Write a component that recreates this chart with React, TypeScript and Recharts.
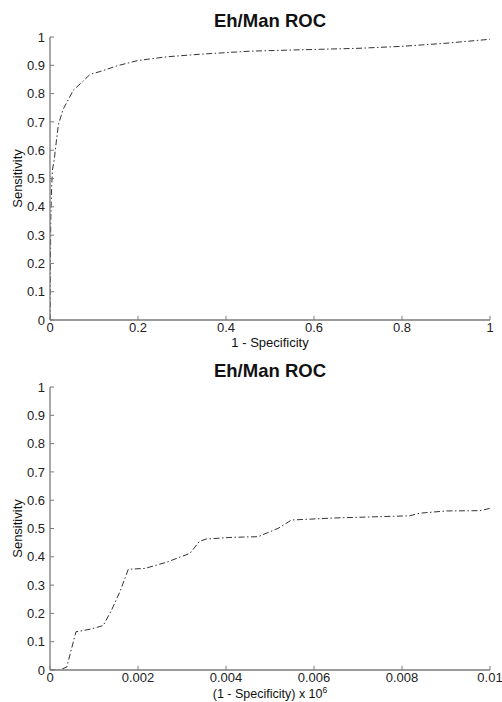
import React from 'react';
import { LineChart, Line, XAxis, YAxis } from 'recharts';

const rocFullX = [0, 0.0004, 0.0006, 0.0018, 0.0035, 0.0055, 0.01, 0.012, 0.019, 0.03, 0.053, 0.076, 0.091, 0.114, 0.152, 0.2, 0.265, 0.34, 0.455, 0.6, 0.7, 0.8, 0.9, 1];
const rocFullY = [0, 0.01, 0.13, 0.36, 0.46, 0.53, 0.57, 0.6, 0.69, 0.745, 0.812, 0.845, 0.868, 0.878, 0.898, 0.917, 0.93, 0.939, 0.95, 0.956, 0.96, 0.967, 0.978, 0.992];

const rocZoomX = [0, 0.0002, 0.00038, 0.00059, 0.00091, 0.00121, 0.0014, 0.00159, 0.00178, 0.00216, 0.00265, 0.00318, 0.0034, 0.00356, 0.00417, 0.00473, 0.00519, 0.00549, 0.00644, 0.00818, 0.0084, 0.009, 0.00977, 0.01];
const rocZoomY = [0, 0, 0.01, 0.135, 0.144, 0.157, 0.212, 0.277, 0.356, 0.359, 0.381, 0.412, 0.455, 0.463, 0.469, 0.471, 0.501, 0.53, 0.537, 0.545, 0.554, 0.562, 0.563, 0.571];

const yTicks = [0, 0.1, 0.2, 0.3, 0.4, 0.5, 0.6, 0.7, 0.8, 0.9, 1];
const xTicksFull = [0, 0.2, 0.4, 0.6, 0.8, 1];
const xTicksZoom = [0, 0.002, 0.004, 0.006, 0.008, 0.01];

const titleText = 'Eh/Man ROC';
const yLabelText = 'Sensitivity';
const xLabelFull = '1 - Specificity';
const xLabelZoom = '(1 - Specificity) x 10';

const FONT = '"Liberation Sans", Arial, Helvetica, sans-serif';
const AXIS = '#7a7a7a';
const tickStyle = { fontSize: 13, fill: '#222', fontFamily: FONT };
const blank = () => '';

const toRows = (xs: number[], ys: number[]) => xs.map((x, i) => ({ x, y: ys[i] }));

function Panel({ data, xTicks, xMax }: { data: { x: number; y: number }[]; xTicks: number[]; xMax: number }) {
  return (
    <LineChart width={502} height={350} data={data} margin={{ top: 37, right: 12, bottom: 0, left: 0 }}>
      <XAxis
        dataKey="x"
        type="number"
        domain={[0, xMax]}
        ticks={xTicks}
        interval={0}
        height={30}
        tickSize={-4}
        tickMargin={7}
        axisLine={{ stroke: AXIS, strokeWidth: 1.3 }}
        tickLine={{ stroke: AXIS, strokeWidth: 1 }}
        tick={tickStyle}
        allowDataOverflow
      />
      <XAxis
        xAxisId="top"
        orientation="top"
        dataKey="x"
        type="number"
        domain={[0, xMax]}
        ticks={xTicks}
        interval={0}
        height={0}
        tickSize={-4}
        tickFormatter={blank}
        axisLine={{ stroke: AXIS, strokeWidth: 1.3 }}
        tickLine={{ stroke: AXIS, strokeWidth: 1 }}
        tick={tickStyle}
        allowDataOverflow
      />
      <YAxis
        type="number"
        domain={[0, 1]}
        ticks={yTicks}
        interval={0}
        width={50}
        tickSize={-4}
        tickMargin={9}
        axisLine={{ stroke: AXIS, strokeWidth: 1.3 }}
        tickLine={{ stroke: AXIS, strokeWidth: 1 }}
        tick={tickStyle}
        allowDataOverflow
      />
      <YAxis
        yAxisId="right"
        orientation="right"
        type="number"
        domain={[0, 1]}
        ticks={yTicks}
        interval={0}
        width={0}
        tickSize={-4}
        tickFormatter={blank}
        axisLine={{ stroke: AXIS, strokeWidth: 1.3 }}
        tickLine={{ stroke: AXIS, strokeWidth: 1 }}
        tick={tickStyle}
        allowDataOverflow
      />
      <Line
        dataKey="y"
        type="linear"
        stroke="#333"
        strokeWidth={1}
        strokeDasharray="6 2.5 1.5 2.5"
        dot={false}
        activeDot={false}
        isAnimationActive={false}
      />
    </LineChart>
  );
}

export default function App() {
  const full = toRows(rocFullX, rocFullY);
  const zoom = toRows(rocZoomX, rocZoomY);
  return (
    <div style={{ position: 'absolute', left: 0, top: 0, width: 502, height: 702, background: '#fff', fontFamily: FONT }}>
      <div style={{ position: 'absolute', left: 0, top: 0 }}>
        <Panel data={full} xTicks={xTicksFull} xMax={1} />
      </div>
      <div style={{ position: 'absolute', left: 0, top: 350 }}>
        <Panel data={zoom} xTicks={xTicksZoom} xMax={0.01} />
      </div>
      <svg width={502} height={702} style={{ position: 'absolute', left: 0, top: 0, pointerEvents: 'none' }}>
        <g fontFamily={FONT} fill="#111">
          <text x={270} y={26.7} textAnchor="middle" fontSize={18.5} fontWeight="bold">{titleText}</text>
          <text x={270} y={346.5} textAnchor="middle" fontSize={13}>{xLabelFull}</text>
          <text transform="translate(22,178.5) rotate(-90)" textAnchor="middle" fontSize={13}>{yLabelText}</text>
          <text x={270} y={376.7} textAnchor="middle" fontSize={18.5} fontWeight="bold">{titleText}</text>
          <text x={270} y={697.5} textAnchor="middle" fontSize={12.5}>
            {xLabelZoom}
            <tspan dy={-5} fontSize={8.5}>6</tspan>
          </text>
          <text transform="translate(22,528.5) rotate(-90)" textAnchor="middle" fontSize={13}>{yLabelText}</text>
        </g>
      </svg>
    </div>
  );
}
